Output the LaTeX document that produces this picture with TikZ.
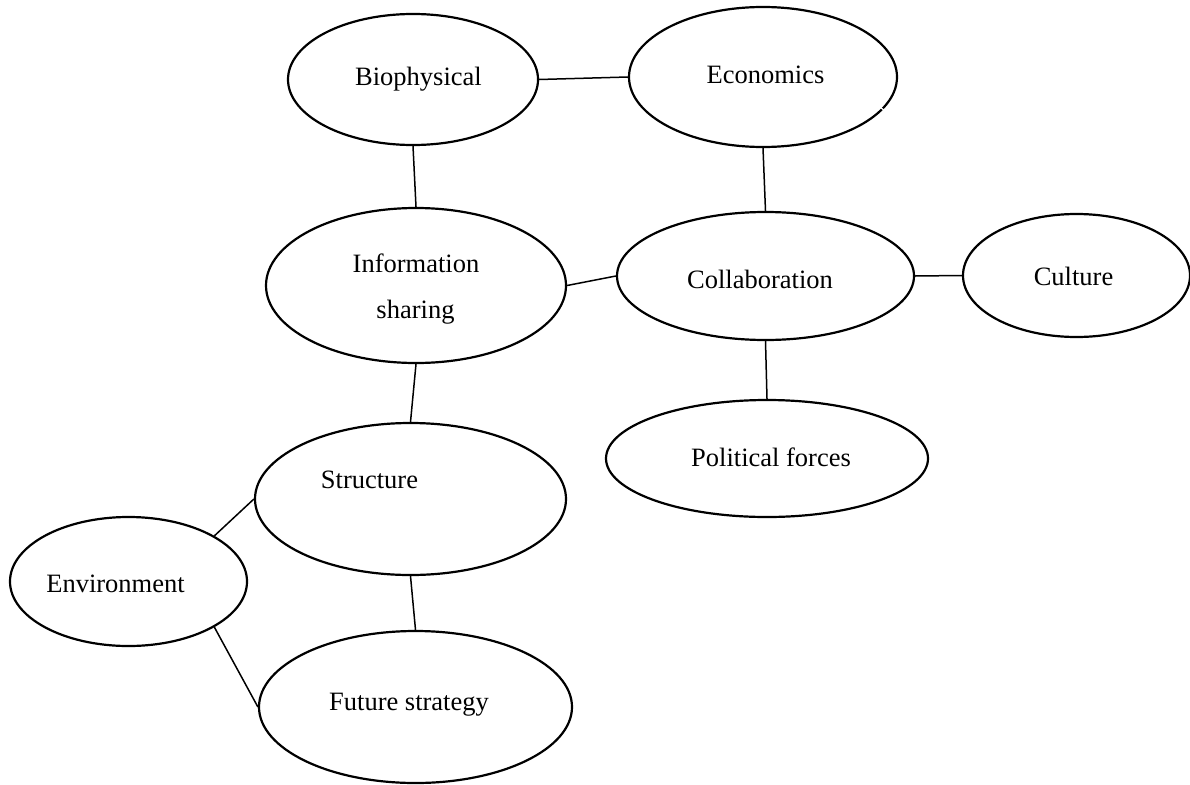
\documentclass[tikz,border=0pt]{standalone}
\usepackage{fontspec}
\setmainfont{Liberation Serif}
\usetikzlibrary{shapes.geometric}
\begin{document}
\begin{tikzpicture}[x=1pt,y=-1pt,
  ell/.style={draw=black, ellipse, line width=2.2pt, inner sep=0pt, fill=white},
  lbl/.style={anchor=base, inner sep=0pt, font=\fontsize{26.5}{31}\selectfont},
  conn/.style={draw=black, line width=1.5pt}]
\useasboundingbox (0,0) rectangle (1190,784);
% ellipses
\node[ell, minimum width=250pt, minimum height=131pt] (bio) at (413,79.5) {};
\node[ell, minimum width=268pt, minimum height=140pt] (eco) at (763,77) {};
\node[ell, minimum width=300pt, minimum height=155pt] (info) at (416,285.5) {};
\node[ell, minimum width=297pt, minimum height=128pt] (col) at (765.5,276) {};
\node[ell, minimum width=227pt, minimum height=123pt] (cul) at (1076.5,275.5) {};
\node[ell, minimum width=322pt, minimum height=117pt] (pol) at (767,458.5) {};
\node[ell, minimum width=311pt, minimum height=152pt] (str) at (410.5,499) {};
\node[ell, minimum width=237pt, minimum height=129pt] (env) at (128.5,581.5) {};
\node[ell, minimum width=313pt, minimum height=152pt] (fut) at (415.5,707) {};
% small gap in the Economics outline
\draw[white, line width=1.2pt] (880,107) -- (886,112);
% labels
\node[lbl] (biot) at (418.5,85) {Biophysical};
\node[lbl] (ecot) at (765.5,83) {Economics};
\node[lbl] (infot1) at (416,272) {Information};
\node[lbl] (infot2) at (415.5,318) {sharing};
\node[lbl] (colt) at (760,288) {Collaboration};
\node[lbl] (cult) at (1073.5,285) {Culture};
\node[lbl] (polt) at (771,466) {Political forces};
\node[lbl] (strt) at (369.5,488) {Structure};
\node[lbl] (envt) at (115.5,592) {Environment};
\node[lbl] (futt) at (409,710) {Future strategy};
% connectors
\draw[conn] (bio.east) -- (eco.west);
\draw[conn] (bio.south) -- (info.north);
\draw[conn] (eco.south) -- (col.north);
\draw[conn] (info.east) -- (col.west);
\draw[conn] (col.east) -- (cul.west);
\draw[conn] (col.south) -- (pol.north);
\draw[conn] (info.south) -- (str.north);
\draw[conn] (str.south) -- (fut.north);
\draw[conn] (env.28.8) -- (str.west);
\draw[conn] (env.-28.8) -- (fut.west);
\end{tikzpicture}
\end{document}
